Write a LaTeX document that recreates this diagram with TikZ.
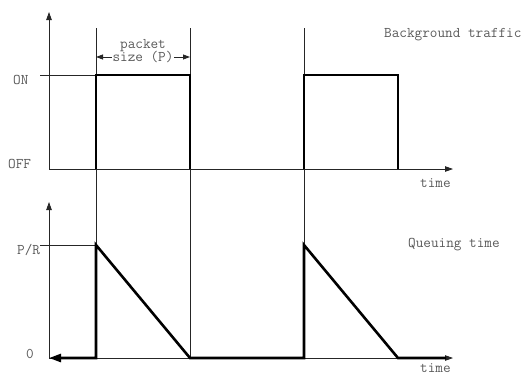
\documentclass[tikz,border=0pt]{standalone}
\usepackage{fontspec}
\usetikzlibrary{arrows.meta}
\definecolor{inkgray}{HTML}{5A5A5A}
\begin{document}
\begin{tikzpicture}[x=1pt, y=-1pt,
    thinline/.style={black!85, line width=0.8pt},
    pulse/.style={black, line width=2.6pt, line join=miter},
    axis/.style={thinline, -{Triangle[length=8pt, width=5.5pt]}},
    lbl/.style={font=\ttfamily\fontsize{14.8}{17}\selectfont, text=inkgray, inner sep=0pt}]
    \useasboundingbox (0,0) rectangle (525,376);
    % Axes
    \draw[axis] (49,169) -- (49,12);
    \draw[axis] (49,169) -- (453,169);
    \draw[axis] (49,358) -- (49,202);
    \draw[axis] (49,358) -- (453,358);
    % Guide lines through both panels
    \foreach \x in {96,190,304} \draw[thinline] (\x,28) -- (\x,358);
    \draw[thinline] (40,75) -- (96,75);
    \draw[thinline] (40,245) -- (96,245);
    % Background traffic
    \draw[pulse] (96,169) -- (96,75) -- (190,75) -- (190,169);
    \draw[pulse] (304,169) -- (304,75) -- (398,75) -- (398,169);
    % Queuing time
    \draw[pulse, {Triangle[length=12pt, width=8pt]}-] (49,358) -- (96,358) -- (96,245) -- (190,358)
        -- (304,358) -- (304,245) -- (398,358) -- (446,358);
    % Packet size
    \draw[thinline, {Triangle[length=7pt, width=5pt]}-{Triangle[length=7pt, width=5pt]}] (96,57)
        -- node[lbl, fill=white, inner xsep=0.5pt] (size) {size (P)} (190,57);
    \node[lbl, anchor=base] (packet) at (143,48) {packet};
    % Labels
    \node[lbl, anchor=base west] (on) at (13,84) {ON};
    \node[lbl, anchor=base west] (off) at (8,168) {OFF};
    \node[lbl, anchor=base west] (pr) at (17,254) {P/R};
    \node[lbl, anchor=base west] (zero) at (26,358) {0};
    \node[lbl, anchor=base west] (bg) at (384,37) {Background traffic};
    \node[lbl, anchor=base west] (queue) at (408,247) {Queuing time};
    \node[lbl, anchor=base west] (time1) at (420,187) {time};
    \node[lbl, anchor=base west] (time2) at (420,372) {time};
\end{tikzpicture}
\end{document}
